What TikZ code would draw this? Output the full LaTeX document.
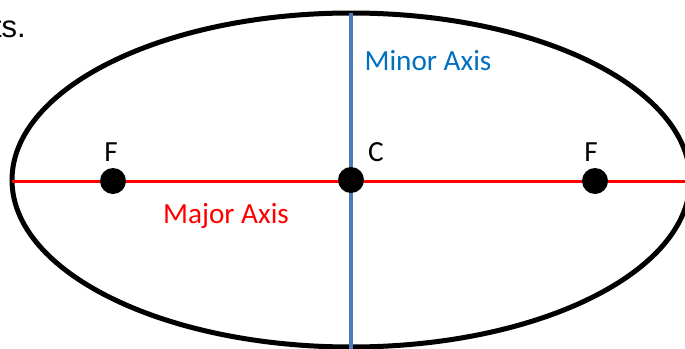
\documentclass[tikz,border=0pt]{standalone}
\usepackage{xcolor}
\usepackage{fontspec}
\setmainfont{Carlito}
\newfontfamily\arialfont{Liberation Sans}
\usetikzlibrary{positioning}

\definecolor{minorblue}{HTML}{4A7EBB}
\definecolor{minortext}{HTML}{0070C0}

\begin{document}
\begin{tikzpicture}[x=1pt,y=-1pt,
	dot/.style={circle,fill=black,minimum size=26pt,inner sep=0pt},
	lbl/.style={font=\fontsize{29.2}{31}\selectfont,inner sep=0pt}]
			
			\useasboundingbox (0,0) rectangle (685,348);
			
			\node[anchor=base east,inner sep=0pt,font=\arialfont\fontsize{31}{33}\selectfont] (prev) at (26,37) {ts.};
			
			\draw[line width=5pt] (351,180) ellipse [x radius=339, y radius=167];
			
			\coordinate (left) at (12,181);
			\coordinate (right) at (692,181);
			\coordinate (top) at (351,13);
			\coordinate (bottom) at (351,352);
			
			\draw[red,line width=3pt] (left) -- (right);
			\draw[minorblue,line width=3.5pt] (top) -- (bottom);
			
			\node[dot] (fL) at (113,181) {};
			\node[dot] (ctr) at (351,180) {};
			\node[dot] (fR) at (595,181) {};
			
			\node[lbl] (fLlbl) at (111,152) {F};
			\node[lbl] (ctrlbl) at (376,152) {C};
			\node[lbl] (fRlbl) at (591,152) {F};
			
			\node[lbl,text=minortext] (minor) at (428,61) {Minor Axis};
			\node[lbl,text=red] (major) at (226,216) {Major Axis};
			
		\end{tikzpicture}
\end{document}
